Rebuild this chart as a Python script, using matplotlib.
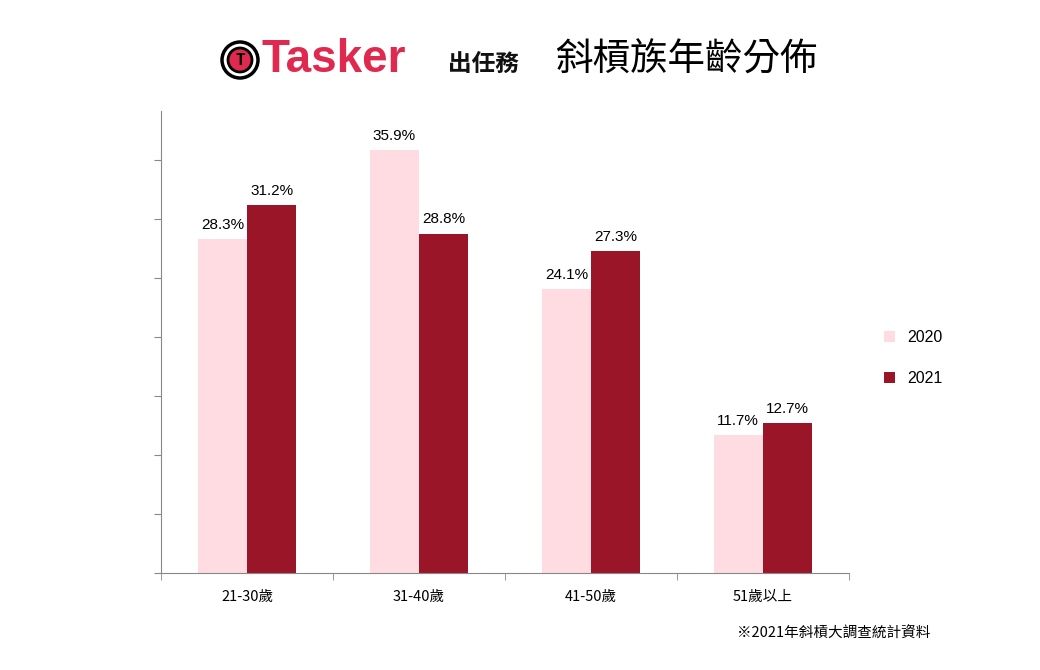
import numpy as np
import matplotlib.pyplot as plt
from matplotlib.patches import Ellipse

plt.rcParams['font.family'] = ['Noto Sans CJK TC', 'DejaVu Sans']

categories = ['21-30歲', '31-40歲', '41-50歲', '51歲以上']
years = ['2020', '2021']
v2020 = [28.3, 35.9, 24.1, 11.7]
v2021 = [31.2, 28.8, 27.3, 12.7]
colors = ['#FFDCE2', '#9B1529']

fig = plt.figure(figsize=(10.4, 6.7), dpi=100)
ax = fig.add_axes([0.155, 0.1448, 0.661, 0.6896])

x = np.arange(len(categories))
w = 0.285
for vals, off, c, lab in [(v2020, -w / 2, colors[0], years[0]), (v2021, w / 2, colors[1], years[1])]:
    bars = ax.bar(x + off, vals, w, color=c, label=lab)
    for b, v in zip(bars, vals):
        ax.text(b.get_x() + b.get_width() / 2, v + 0.6, f'{v}%', ha='center', va='bottom',
                fontsize=11, family=['Liberation Sans', 'DejaVu Sans'])

ax.set_xlim(-0.5, 3.5)
ax.set_ylim(0, 39.2)
ax.set_yticks(np.arange(0, 40, 5))
ax.set_yticklabels([])
ax.set_xticks(x)
ax.set_xticklabels(categories, fontsize=10.5)
ax.set_xticks(np.arange(-0.5, 4, 1), minor=True)
ax.tick_params(axis='x', which='major', length=0, pad=12)
ax.tick_params(axis='x', which='minor', length=5, color='#888888')
ax.tick_params(axis='y', length=5, color='#888888')
for s in ['top', 'right']:
    ax.spines[s].set_visible(False)
for s in ['left', 'bottom']:
    ax.spines[s].set_color('#888888')

ax.legend(loc='center left', bbox_to_anchor=(1.03, 0.465), frameon=False,
          handlelength=0.7, handleheight=0.7, labelspacing=1.6, prop={'family': 'Liberation Sans', 'size': 11.5})

# header
cx, cy = 240 / 1040, 1 - 60 / 670
fig.patches.append(Ellipse((cx, cy), 36 / 1040, 36 / 670, transform=fig.transFigure,
                           facecolor='white', edgecolor='black', lw=2.5))
fig.patches.append(Ellipse((cx, cy), 24 / 1040, 24 / 670, transform=fig.transFigure,
                           facecolor='#E0294F', edgecolor='black', lw=2))
fig.text(cx, cy, 'T', color='black', fontsize=11, fontweight='bold', ha='center', va='center')
fig.text(262 / 1040, 1 - 60 / 670, 'Tasker', color='#E0294F', fontsize=33, fontweight='bold',
         ha='left', va='center', family=['Liberation Sans'])
fig.text(448 / 1040, 1 - 64 / 670, '出任務', color='#111111', fontsize=17, fontweight='bold', ha='left', va='center')
fig.text(555 / 1040, 1 - 60 / 670, '斜槓族年齡分佈', color='black', fontsize=27, ha='left', va='center')

fig.text(930 / 1040, 1 - 634 / 670, '※2021年斜槓大調查統計資料', fontsize=10.5, ha='right', va='center')

fig.savefig('out.png', dpi=100)
